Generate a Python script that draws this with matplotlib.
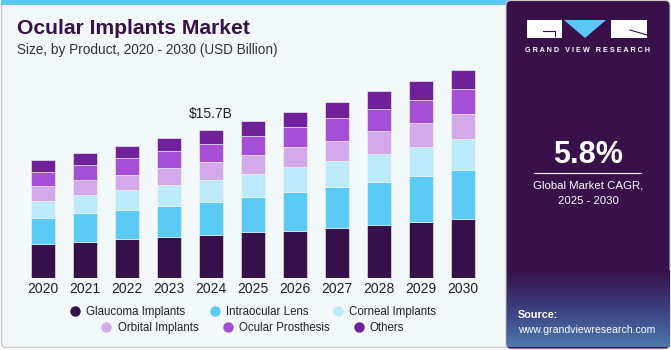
import numpy as np
import matplotlib.pyplot as plt
from matplotlib.patches import Rectangle, FancyBboxPatch, Polygon
from matplotlib.lines import Line2D
from matplotlib.colors import LinearSegmentedColormap

plt.rcParams['font.family'] = ['Liberation Sans', 'DejaVu Sans']

years = ['2020', '2021', '2022', '2023', '2024', '2025', '2026', '2027', '2028', '2029', '2030']
glaucoma = [3.64, 3.89, 4.13, 4.38, 4.60, 4.88, 5.06, 5.37, 5.69, 5.94, 6.29]
intraocular = [2.76, 3.00, 3.14, 3.32, 3.54, 3.78, 4.07, 4.35, 4.56, 4.88, 5.16]
corneal = [1.80, 1.94, 2.08, 2.19, 2.33, 2.44, 2.62, 2.76, 2.97, 3.11, 3.32]
orbital = [1.55, 1.55, 1.63, 1.77, 1.91, 1.98, 2.12, 2.12, 2.37, 2.51, 2.62]
prosthesis = [1.48, 1.59, 1.73, 1.84, 1.87, 2.02, 2.16, 2.40, 2.40, 2.44, 2.69]
others = [1.27, 1.31, 1.31, 1.38, 1.45, 1.56, 1.63, 1.73, 1.84, 2.05, 2.05]

series = {
    'Glaucoma Implants': (glaucoma, '#36104a'),
    'Intraocular Lens': (intraocular, '#5bcbf5'),
    'Corneal Implants': (corneal, '#bdeaf9'),
    'Orbital Implants': (orbital, '#d4a9ec'),
    'Ocular Prosthesis': (prosthesis, '#a44fd6'),
    'Others': (others, '#6f2199'),
}
highlight_idx = 4
highlight_label = r'\$15.7B'

W, H = 671, 350
panel_bg = '#f3f8fb'
dark = '#38104a'

fig = plt.figure(figsize=(W / 100, H / 100), dpi=100)
fig.patch.set_facecolor('white')

# decoration layer in pixel coords
bg = fig.add_axes([0, 0, 1, 1])
bg.set_xlim(0, W)
bg.set_ylim(H, 0)
bg.axis('off')

bg.add_patch(FancyBboxPatch((1.5, 1.5), 508, 346, boxstyle='round,pad=0,rounding_size=5',
                            facecolor=panel_bg, edgecolor='#c8c8c8', linewidth=1))
bg.add_patch(Rectangle((1, 0), 508, 4.5, color='#5bc8f5', lw=0))

# right panel
bg.add_patch(FancyBboxPatch((506, 0.5), W - 507, H - 1.5, boxstyle='round,pad=0,rounding_size=5',
                            facecolor=dark, edgecolor='#c8c8c8', linewidth=0.8))
grad = np.linspace(0, 1, 100).reshape(-1, 1)
cmap = LinearSegmentedColormap.from_list('g', [dark, '#3b3f7e', '#4d78b0'])
bg.imshow(grad, extent=(506.5, W - 1.5, 347, 270), cmap=cmap, aspect='auto', zorder=1)

# logo
bg.add_patch(Rectangle((527, 20), 35, 18, color='white', lw=0, zorder=2))
bg.add_patch(Polygon([(564, 20), (606, 20), (585, 38)], color='#5bc8f5', lw=0, zorder=2))
bg.add_patch(Rectangle((611, 20), 36, 18, color='white', lw=0, zorder=2))
bg.plot([543, 555, 555], [31, 31, 36], color=dark, lw=0.8, zorder=3)
bg.plot([630, 647], [30, 35], color=dark, lw=0.8, zorder=3)
bg.text(587.5, 51, 'G R A N D   V I E W   R E S E A R C H', color='white', fontsize=5.2,
        fontweight='bold', ha='center', va='center', zorder=3)

bg.text(588, 155, '5.8%', color='white', fontsize=22, fontweight='bold', ha='center', va='center', zorder=3)
bg.plot([534, 641], [173, 173], color='white', lw=0.8, zorder=3)
bg.text(588, 186, 'Global Market CAGR,', color='white', fontsize=8.2, ha='center', va='center', zorder=3)
bg.text(588, 201, '2025 - 2030', color='white', fontsize=8.2, ha='center', va='center', zorder=3)
bg.text(518, 315, 'Source:', color='white', fontsize=7.8, fontweight='bold', ha='left', va='center', zorder=3)
bg.text(518, 330, 'www.grandviewresearch.com', color='white', fontsize=7.6, ha='left', va='center', zorder=3)

# titles
bg.text(17, 29, 'Ocular Implants Market', color=dark, fontsize=15.2, fontweight='bold', ha='left', va='center')
bg.text(17, 50, 'Size, by Product, 2020 - 2030 (USD Billion)', color='#333333', fontsize=9.8,
        ha='left', va='center')

# bar chart
base_px, top_px = 278.3, 42.5
ax = fig.add_axes([22 / W, (H - base_px) / H, 462 / W, (base_px - top_px) / H])
ax.patch.set_alpha(0)
x = np.arange(len(years))
bottom = np.zeros(len(years))
for name, (vals, col) in series.items():
    ax.bar(x, vals, 0.58, bottom=bottom, color=col, edgecolor=panel_bg, linewidth=0.4, label=name)
    bottom += np.array(vals)
ax.set_xlim(-0.5, len(years) - 0.5)
ax.set_ylim(0, 25)
ax.set_xticks(x, years)
ax.tick_params(axis='x', length=0, pad=3, labelsize=10, labelcolor='#222222')
ax.set_yticks([])
for s in ax.spines.values():
    s.set_visible(False)
ax.text(highlight_idx, bottom[highlight_idx] + 0.95, highlight_label, ha='center', va='bottom',
        fontsize=10, color='#222222')

# legend in two centred rows
names = list(series.keys())
for row, yy in ((names[:3], 312), (names[3:], 328)):
    handles = [Line2D([], [], marker='o', linestyle='', markersize=6.5, color=series[n][1]) for n in row]
    fig.legend(handles, row, ncol=3, loc='center', bbox_to_anchor=(253 / W, 1 - yy / H),
               frameon=False, fontsize=8.3, handlelength=0.8, handletextpad=0.57,
               columnspacing=2.15, borderpad=0, labelcolor='#222222')

fig.savefig('out.png', dpi=100, facecolor=fig.get_facecolor())
